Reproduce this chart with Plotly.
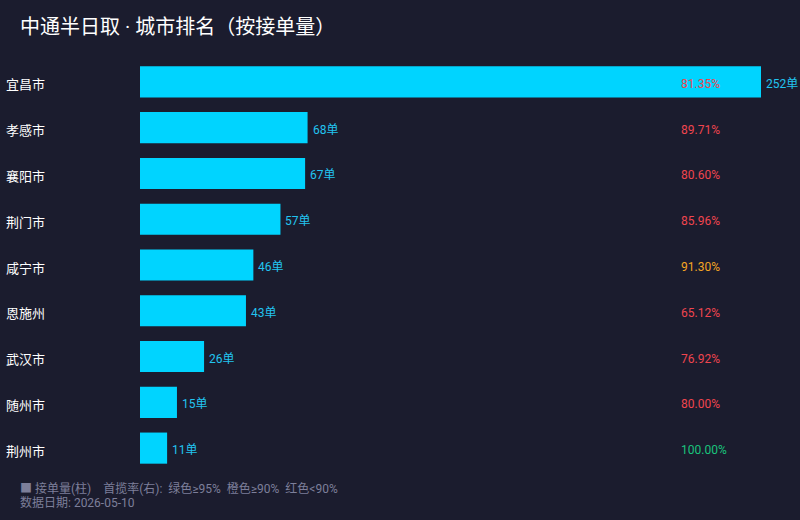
import plotly.graph_objects as go

FIG_WIDTH = 800
FIG_HEIGHT = 520

BG = "#1b1c2e"
BAR_COLOR = "#00d4ff"
FONT = "Roboto, Noto Sans CJK SC"

cities = ["宜昌市", "孝感市", "襄阳市", "荆门市", "咸宁市", "恩施州", "武汉市", "随州市", "荆州市"]
orders = [252, 68, 67, 57, 46, 43, 26, 15, 11]
pickup_rate = [81.35, 89.71, 80.60, 85.96, 91.30, 65.12, 76.92, 80.00, 100.00]

# plot area in pixels
MARGIN_L, MARGIN_R, MARGIN_T, MARGIN_B = 140, 39, 59, 49
PLOT_W = FIG_WIDTH - MARGIN_L - MARGIN_R
PLOT_H = FIG_HEIGHT - MARGIN_T - MARGIN_B


def px_x(x):
    return (x - MARGIN_L) / PLOT_W


def px_y(y):
    return (FIG_HEIGHT - MARGIN_B - y) / PLOT_H


def rate_color(r: float) -> str:
    """Colour rule from the footer: green >=95, orange >=90, red otherwise"""
    if r >= 95:
        return "#19c37d"
    if r >= 90:
        return "#f5a623"
    return "#f0454f"


def build_figure() -> go.Figure:
    fig = go.Figure(go.Bar(
        x=orders,
        y=cities,
        orientation="h",
        marker=dict(color=BAR_COLOR, line=dict(width=0)),
        width=0.68,
        hoverinfo="skip",
    ))

    annotations = []
    for city, n, rate in zip(cities, orders, pickup_rate):
        # city name, left aligned at the page edge
        annotations.append(dict(
            x=px_x(4), y=city, xref="paper", yref="y", yshift=-3,
            text=city, showarrow=False, xanchor="left",
            font=dict(color="#ffffff", size=13, family=FONT),
        ))
        # order count just past the bar end
        annotations.append(dict(
            x=n, y=city, xref="x", yref="y", xshift=3, yshift=-2,
            text=f"{n}单", showarrow=False, xanchor="left",
            font=dict(color="#22c4f0", size=12, family=FONT),
        ))
        annotations.append(dict(
            x=px_x(679), y=city, xref="paper", yref="y", yshift=-2,
            text=f"{rate:.2f}%", showarrow=False, xanchor="left",
            font=dict(color=rate_color(rate), size=12, family=FONT),
        ))

    annotations.append(dict(
        x=px_x(18), y=px_y(488), xref="paper", yref="paper", showarrow=False,
        text="■ 接单量(柱)    首揽率(右):  绿色≥95%  橙色≥90%  红色<90%",
        align="left", xanchor="left", yanchor="middle",
        font=dict(color="#7d7f9a", size=12, family=FONT),
    ))
    annotations.append(dict(
        x=px_x(18), y=px_y(502), xref="paper", yref="paper", showarrow=False,
        text="数据日期: 2026-05-10",
        align="left", xanchor="left", yanchor="middle",
        font=dict(color="#7d7f9a", size=12, family=FONT),
    ))

    fig.update_layout(
        width=FIG_WIDTH,
        height=FIG_HEIGHT,
        paper_bgcolor=BG,
        plot_bgcolor=BG,
        margin=dict(l=MARGIN_L, r=MARGIN_R, t=MARGIN_T, b=MARGIN_B),
        title=dict(
            text="中通半日取 · 城市排名（按接单量）",
            x=20 / FIG_WIDTH, xanchor="left",
            y=1 - 27 / FIG_HEIGHT, yanchor="middle",
            font=dict(color="#ffffff", size=20, family=FONT),
        ),
        xaxis=dict(range=[0, 252], visible=False, fixedrange=True),
        yaxis=dict(autorange="reversed", showticklabels=False, showgrid=False,
                   zeroline=False, fixedrange=True),
        showlegend=False,
        annotations=annotations,
        font=dict(family=FONT),
    )
    return fig


def main() -> None:
    fig = build_figure()
    fig.write_html(
        "out.html",
        config={"displayModeBar": False},
        post_script="document.body.style.margin='0';document.body.style.background='%s';" % BG,
    )


if __name__ == "__main__":
    main()
